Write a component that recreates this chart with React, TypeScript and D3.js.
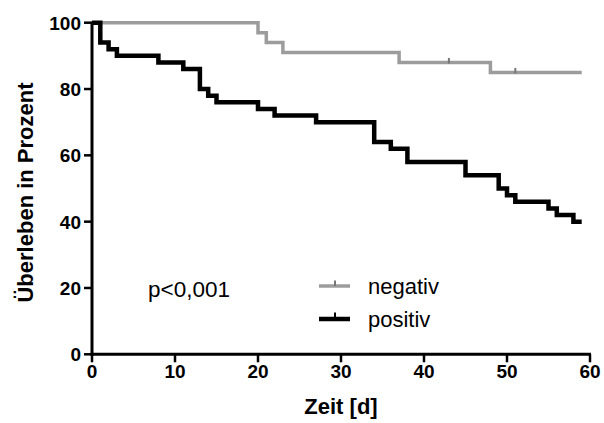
import React from "react";
import * as d3 from "d3";

const negTimes = [0, 20, 21, 23, 37, 48, 59];
const negSurv = [100, 97, 94, 91, 88, 85, 85];
const negCensor = [43, 51];

const posTimes = [0, 1, 2, 3, 8, 11, 13, 14, 15, 20, 22, 27, 34, 36, 38, 45, 49, 50, 51, 55, 56, 58, 59];
const posSurv = [100, 94, 92, 90, 88, 86, 80, 78, 76, 74, 72, 70, 64, 62, 58, 54, 50, 48, 46, 44, 42, 40, 40];

const xTicks = [0, 10, 20, 30, 40, 50, 60];
const yTicks = [0, 20, 40, 60, 80, 100];

const W = 604;
const H = 423;
const FONT = "'Liberation Sans', Arial, Helvetica, sans-serif";
const GRAY = "#9c9c9c";
const GRAY_DARK = "#777777";

export default function App() {
  const x = d3.scaleLinear().domain([0, 60]).range([92, 590]);
  const y = d3.scaleLinear().domain([0, 100]).range([354.3, 22.7]);
  const line = d3
    .line<[number, number]>()
    .x((d) => x(d[0]))
    .y((d) => y(d[1]))
    .curve(d3.curveStepAfter);

  const negData: [number, number][] = negTimes.map((t, i) => [t, negSurv[i]]);
  const posData: [number, number][] = posTimes.map((t, i) => [t, posSurv[i]]);

  const survAt = (times: number[], surv: number[], t: number) => {
    let v = surv[0];
    for (let i = 0; i < times.length; i++) if (times[i] <= t) v = surv[i];
    return v;
  };

  const y0 = y(0);
  const x0 = x(0);

  return (
    <div style={{ position: "fixed", left: 0, top: 0 }}>
      <svg width={W} height={H} style={{ display: "block", background: "#fff" }}>
        {/* axes */}
        <g stroke="#000" strokeWidth={3} fill="none">
          <line x1={x0} x2={x0} y1={y(100) - 1} y2={y0 + 1.5} />
          <line x1={x0 - 1.5} x2={x(60) + 1} y1={y0} y2={y0} />
          {yTicks.map((t) => (
            <line key={"yt" + t} x1={x0 - 8} x2={x0} y1={y(t)} y2={y(t)} strokeWidth={2.5} />
          ))}
          {xTicks.map((t) => (
            <line key={"xt" + t} x1={x(t)} x2={x(t)} y1={y0} y2={y0 + 8} strokeWidth={2.5} />
          ))}
        </g>
        <g fontFamily={FONT} fontWeight="bold" fontSize={19} fill="#000">
          {yTicks.map((t) => (
            <text key={"yl" + t} x={x0 - 11} y={y(t)} dy="0.36em" textAnchor="end">
              {t}
            </text>
          ))}
          {xTicks.map((t) => (
            <text key={"xl" + t} x={x(t)} y={378} textAnchor="middle">
              {t}
            </text>
          ))}
        </g>
        <text
          x={341}
          y={414}
          textAnchor="middle"
          fontFamily={FONT}
          fontWeight="bold"
          fontSize={22}
        >
          Zeit [d]
        </text>
        <text
          transform="translate(33,192.5) rotate(-90)"
          textAnchor="middle"
          fontFamily={FONT}
          fontWeight="bold"
          fontSize={22}
        >
          Überleben in Prozent
        </text>

        {/* curves */}
        <path d={line(negData) || ""} fill="none" stroke={GRAY} strokeWidth={3.5} />
        {negCensor.map((t) => (
          <line
            key={"c" + t}
            x1={x(t)}
            x2={x(t)}
            y1={y(survAt(negTimes, negSurv, t)) - 4.5}
            y2={y(survAt(negTimes, negSurv, t)) + 1}
            stroke={GRAY_DARK}
            strokeWidth={2}
          />
        ))}
        <path d={line(posData) || ""} fill="none" stroke="#000" strokeWidth={4.5} />

        {/* annotation */}
        <text x={148} y={297} fontFamily={FONT} fontSize={22.5} fill="#000">
          p&lt;0,001
        </text>

        {/* legend */}
        <line x1={319} x2={350} y1={286} y2={286} stroke={GRAY} strokeWidth={3.5} />
        <line x1={335} x2={335} y1={280.5} y2={286} stroke={GRAY_DARK} strokeWidth={2} />
        <text x={368} y={294} fontFamily={FONT} fontSize={22} fill="#000">
          negativ
        </text>
        <line x1={319} x2={350} y1={319} y2={319} stroke="#000" strokeWidth={4.5} />
        <line x1={335} x2={335} y1={312.5} y2={319} stroke="#000" strokeWidth={2} />
        <text x={368} y={327} fontFamily={FONT} fontSize={22} fill="#000">
          positiv
        </text>
      </svg>
    </div>
  );
}
